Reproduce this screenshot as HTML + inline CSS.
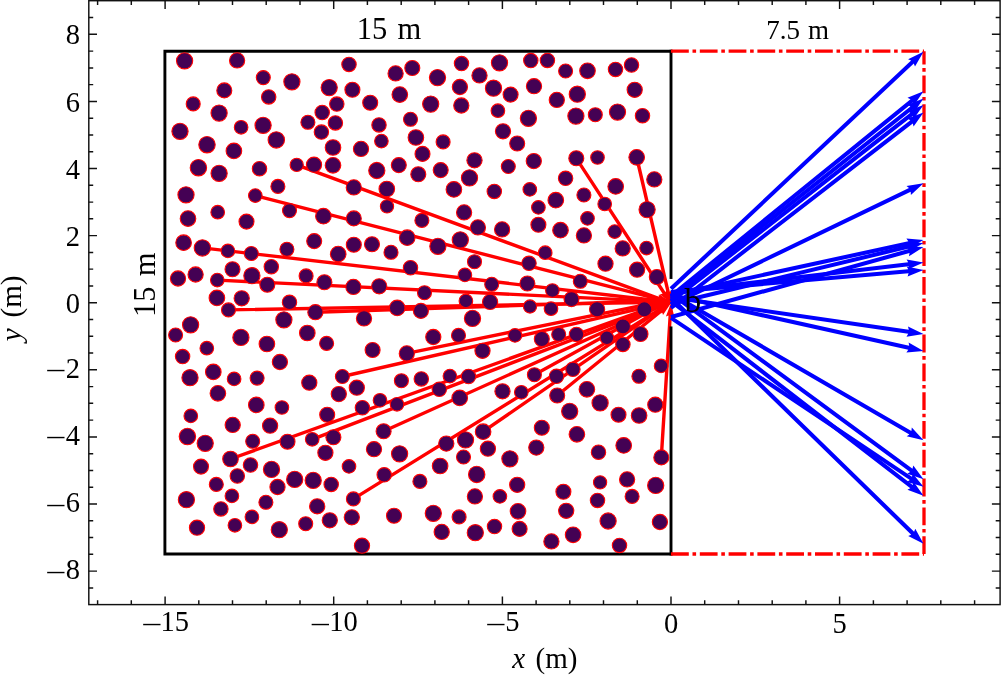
<!DOCTYPE html>
<html lang="en"><head><meta charset="utf-8"><title>Scattering geometry</title>
<style>html,body{margin:0;padding:0;background:#fff;}body{width:1001px;height:676px;overflow:hidden;}svg{display:block;}text{font-family:"Liberation Serif",serif;fill:#000;}</style>
</head><body>
<svg width="1001" height="676" viewBox="0 0 1001 676">
<rect width="1001" height="676" fill="#fff"/>
<g fill="#ff0000">
<polygon points="296.1,166.5 658.5,300.2 656.6,302.2 671.0,303.0 659.6,294.2 659.7,297.0 297.3,163.3"/>
<polygon points="254.9,197.2 658.3,300.7 656.6,302.9 671.0,302.2 658.7,294.7 659.1,297.4 255.7,194.0"/>
<polygon points="202.2,249.6 658.2,302.4 656.8,304.8 671.0,302.2 657.8,296.4 658.6,299.1 202.6,246.2"/>
<polygon points="217.2,281.8 658.3,303.1 657.0,305.6 671.0,302.0 657.5,297.1 658.4,299.7 217.4,278.4"/>
<polygon points="228.5,311.6 658.4,303.9 657.3,306.5 671.0,302.0 657.2,298.0 658.3,300.5 228.5,308.2"/>
<polygon points="315.5,313.9 658.4,302.6 657.4,305.2 671.0,300.5 657.1,296.7 658.3,299.2 315.3,310.5"/>
<polygon points="574.9,159.2 662.6,293.8 659.9,294.3 671.0,303.5 667.0,289.6 665.5,291.9 577.7,157.4"/>
<polygon points="635.0,157.7 666.5,292.5 663.7,292.1 671.0,304.5 672.0,290.1 669.8,291.8 638.4,156.9"/>
<polygon points="342.8,378.2 659.0,306.0 658.5,308.7 671.0,301.5 656.6,300.4 658.3,302.7 342.0,374.8"/>
<polygon points="312.8,440.9 659.8,308.1 659.7,310.9 671.0,302.0 656.6,303.0 658.5,304.9 311.6,437.7"/>
<polygon points="231.1,460.6 659.6,306.4 659.5,309.2 671.0,300.5 656.6,301.2 658.5,303.2 229.9,457.4"/>
<polygon points="354.3,500.3 661.1,310.6 661.5,313.4 671.0,302.5 657.1,306.1 659.3,307.7 352.5,497.5"/>
<polygon points="407.1,355.1 658.9,303.7 658.4,306.4 671.0,299.5 656.7,298.1 658.2,300.4 406.5,351.7"/>
<polygon points="384.3,432.8 660.1,308.3 660.2,311.0 671.0,301.5 656.7,303.3 658.7,305.2 382.9,429.8"/>
<polygon points="663.0,457.5 671.9,315.8 674.4,317.0 671.0,303.0 665.9,316.5 668.5,315.6 659.6,457.3"/>
<polygon points="558.3,396.8 662.2,312.3 663.0,315.0 671.0,303.0 657.6,308.4 660.1,309.7 556.1,394.2"/>
<polygon points="484.1,433.1 661.5,310.6 662.1,313.3 671.0,302.0 657.3,306.3 659.6,307.8 482.1,430.3"/>
<polygon points="535.2,376.2 660.7,307.1 661.0,309.9 671.0,299.5 656.9,302.4 659.1,304.1 533.6,373.2"/>
</g>
<g stroke="#000" stroke-width="2.9" fill="none" stroke-linecap="square">
<path d="M671.0 51.2 H164.9 V554.0 H671.0"/>
<path d="M671.0 51.2 V277.5"/>
<path d="M671.0 327.9 V554.0"/>
</g>
<g stroke="#ff0000" stroke-width="3.3" fill="none" stroke-dasharray="17.8 3.7 3.6 3.7">
<path d="M671.0 51.2 H924.0"/>
<path d="M671.0 554.0 H924.0"/>
<path d="M924.0 554.0 V51.2"/>
</g>
<g fill="#440154" stroke="#ff0000" stroke-width="1.1">
<circle cx="184.6" cy="60.8" r="8.1"/>
<circle cx="237.1" cy="60.4" r="7.6"/>
<circle cx="349.0" cy="64.4" r="7.2"/>
<circle cx="263.3" cy="77.6" r="7.0"/>
<circle cx="291.9" cy="81.8" r="8.1"/>
<circle cx="329.2" cy="87.6" r="8.1"/>
<circle cx="352.4" cy="89.8" r="7.5"/>
<circle cx="224.3" cy="90.4" r="7.5"/>
<circle cx="268.7" cy="96.9" r="7.2"/>
<circle cx="336.8" cy="104.1" r="7.2"/>
<circle cx="193.2" cy="103.9" r="7.0"/>
<circle cx="219.1" cy="113.1" r="8.1"/>
<circle cx="322.2" cy="112.5" r="7.2"/>
<circle cx="307.9" cy="122.3" r="7.0"/>
<circle cx="335.4" cy="122.9" r="7.2"/>
<circle cx="263.1" cy="125.3" r="8.1"/>
<circle cx="241.1" cy="127.3" r="6.8"/>
<circle cx="180.0" cy="131.3" r="8.1"/>
<circle cx="321.4" cy="132.1" r="7.2"/>
<circle cx="276.3" cy="139.9" r="8.2"/>
<circle cx="207.0" cy="144.7" r="8.2"/>
<circle cx="333.0" cy="147.5" r="7.8"/>
<circle cx="233.9" cy="150.9" r="7.8"/>
<circle cx="361.0" cy="148.9" r="7.6"/>
<circle cx="296.7" cy="164.9" r="6.6"/>
<circle cx="314.0" cy="164.7" r="7.6"/>
<circle cx="333.0" cy="165.3" r="7.8"/>
<circle cx="198.4" cy="167.7" r="8.2"/>
<circle cx="259.5" cy="168.7" r="7.2"/>
<circle cx="219.1" cy="173.3" r="8.1"/>
<circle cx="461.5" cy="63.6" r="7.2"/>
<circle cx="499.5" cy="62.8" r="8.1"/>
<circle cx="530.8" cy="60.6" r="7.2"/>
<circle cx="547.4" cy="60.4" r="7.2"/>
<circle cx="412.3" cy="68.0" r="7.5"/>
<circle cx="395.6" cy="73.4" r="7.6"/>
<circle cx="479.5" cy="75.4" r="7.6"/>
<circle cx="437.5" cy="77.6" r="8.1"/>
<circle cx="459.9" cy="87.0" r="7.6"/>
<circle cx="493.5" cy="88.2" r="8.1"/>
<circle cx="534.0" cy="86.2" r="7.6"/>
<circle cx="510.6" cy="94.6" r="7.5"/>
<circle cx="399.8" cy="94.6" r="7.8"/>
<circle cx="556.8" cy="99.9" r="7.6"/>
<circle cx="370.2" cy="102.7" r="7.5"/>
<circle cx="430.7" cy="104.1" r="8.1"/>
<circle cx="461.3" cy="105.5" r="7.6"/>
<circle cx="497.9" cy="110.7" r="6.8"/>
<circle cx="528.4" cy="118.3" r="8.1"/>
<circle cx="410.5" cy="119.3" r="7.0"/>
<circle cx="379.0" cy="124.9" r="7.2"/>
<circle cx="503.0" cy="131.3" r="7.6"/>
<circle cx="415.9" cy="137.5" r="7.8"/>
<circle cx="381.4" cy="141.1" r="6.8"/>
<circle cx="443.1" cy="141.9" r="7.0"/>
<circle cx="517.2" cy="143.5" r="7.5"/>
<circle cx="422.5" cy="153.9" r="7.5"/>
<circle cx="474.5" cy="160.3" r="7.6"/>
<circle cx="533.8" cy="161.1" r="7.6"/>
<circle cx="398.8" cy="165.1" r="7.5"/>
<circle cx="508.3" cy="166.5" r="7.0"/>
<circle cx="376.8" cy="170.5" r="8.1"/>
<circle cx="440.7" cy="170.1" r="7.5"/>
<circle cx="418.3" cy="174.3" r="7.5"/>
<circle cx="469.5" cy="177.9" r="8.1"/>
<circle cx="565.6" cy="71.0" r="7.0"/>
<circle cx="587.5" cy="70.8" r="7.8"/>
<circle cx="615.5" cy="69.4" r="7.2"/>
<circle cx="631.5" cy="65.0" r="7.2"/>
<circle cx="634.7" cy="89.8" r="7.6"/>
<circle cx="577.3" cy="94.2" r="8.1"/>
<circle cx="575.9" cy="116.1" r="8.1"/>
<circle cx="595.3" cy="114.7" r="7.0"/>
<circle cx="617.5" cy="112.1" r="8.1"/>
<circle cx="642.5" cy="115.7" r="7.2"/>
<circle cx="576.3" cy="158.3" r="7.5"/>
<circle cx="597.5" cy="157.5" r="6.8"/>
<circle cx="636.7" cy="157.3" r="7.8"/>
<circle cx="565.6" cy="178.3" r="7.2"/>
<circle cx="654.3" cy="179.4" r="7.6"/>
<circle cx="277.9" cy="186.4" r="7.0"/>
<circle cx="353.8" cy="187.4" r="7.6"/>
<circle cx="186.0" cy="194.8" r="8.1"/>
<circle cx="255.3" cy="195.6" r="6.8"/>
<circle cx="289.5" cy="210.6" r="7.0"/>
<circle cx="217.7" cy="212.2" r="6.8"/>
<circle cx="188.0" cy="218.6" r="7.8"/>
<circle cx="323.4" cy="216.2" r="7.8"/>
<circle cx="246.5" cy="221.6" r="7.5"/>
<circle cx="353.8" cy="218.4" r="7.5"/>
<circle cx="314.2" cy="241.1" r="7.5"/>
<circle cx="183.6" cy="242.7" r="7.8"/>
<circle cx="202.4" cy="247.9" r="8.2"/>
<circle cx="227.9" cy="250.9" r="6.8"/>
<circle cx="251.3" cy="253.5" r="7.0"/>
<circle cx="286.9" cy="249.3" r="7.0"/>
<circle cx="353.8" cy="244.7" r="7.5"/>
<circle cx="338.2" cy="254.1" r="7.8"/>
<circle cx="232.5" cy="269.3" r="7.5"/>
<circle cx="271.3" cy="266.7" r="7.2"/>
<circle cx="195.6" cy="274.5" r="7.6"/>
<circle cx="178.0" cy="278.5" r="7.6"/>
<circle cx="251.9" cy="275.7" r="8.1"/>
<circle cx="306.1" cy="275.9" r="7.0"/>
<circle cx="217.3" cy="280.1" r="6.8"/>
<circle cx="267.3" cy="284.7" r="7.5"/>
<circle cx="324.4" cy="282.3" r="7.5"/>
<circle cx="353.4" cy="286.9" r="7.6"/>
<circle cx="216.9" cy="297.9" r="7.8"/>
<circle cx="241.7" cy="298.3" r="7.6"/>
<circle cx="289.5" cy="302.3" r="7.2"/>
<circle cx="228.5" cy="309.9" r="7.0"/>
<circle cx="315.4" cy="312.2" r="7.6"/>
<circle cx="386.8" cy="189.0" r="7.8"/>
<circle cx="453.9" cy="189.4" r="7.8"/>
<circle cx="494.3" cy="191.4" r="7.2"/>
<circle cx="529.8" cy="189.4" r="6.8"/>
<circle cx="555.8" cy="200.2" r="7.8"/>
<circle cx="387.0" cy="206.4" r="6.6"/>
<circle cx="538.4" cy="207.4" r="6.8"/>
<circle cx="464.1" cy="212.4" r="7.6"/>
<circle cx="421.9" cy="220.4" r="7.0"/>
<circle cx="477.9" cy="227.4" r="7.6"/>
<circle cx="502.1" cy="229.4" r="7.6"/>
<circle cx="538.4" cy="224.8" r="7.5"/>
<circle cx="560.5" cy="230.2" r="7.8"/>
<circle cx="407.2" cy="237.7" r="7.8"/>
<circle cx="460.3" cy="239.9" r="8.1"/>
<circle cx="437.9" cy="246.3" r="8.1"/>
<circle cx="372.0" cy="244.3" r="7.5"/>
<circle cx="391.0" cy="252.3" r="7.0"/>
<circle cx="545.2" cy="252.7" r="6.8"/>
<circle cx="474.5" cy="261.7" r="7.0"/>
<circle cx="529.0" cy="263.3" r="7.2"/>
<circle cx="410.5" cy="267.7" r="7.2"/>
<circle cx="464.9" cy="274.9" r="6.8"/>
<circle cx="491.7" cy="284.3" r="7.0"/>
<circle cx="527.4" cy="283.5" r="7.5"/>
<circle cx="379.2" cy="286.3" r="7.6"/>
<circle cx="424.5" cy="292.7" r="7.0"/>
<circle cx="552.4" cy="290.5" r="6.8"/>
<circle cx="465.9" cy="300.9" r="6.8"/>
<circle cx="490.1" cy="301.9" r="7.6"/>
<circle cx="530.0" cy="306.5" r="6.6"/>
<circle cx="551.0" cy="308.7" r="6.8"/>
<circle cx="397.2" cy="307.9" r="7.8"/>
<circle cx="420.9" cy="310.9" r="7.5"/>
<circle cx="615.7" cy="186.4" r="7.8"/>
<circle cx="583.9" cy="195.0" r="7.0"/>
<circle cx="604.7" cy="204.0" r="6.8"/>
<circle cx="647.1" cy="209.6" r="8.1"/>
<circle cx="587.5" cy="218.4" r="6.8"/>
<circle cx="583.9" cy="235.4" r="7.6"/>
<circle cx="614.7" cy="231.6" r="6.8"/>
<circle cx="622.7" cy="248.4" r="7.6"/>
<circle cx="646.5" cy="248.1" r="6.8"/>
<circle cx="605.5" cy="263.7" r="7.6"/>
<circle cx="637.1" cy="269.7" r="7.6"/>
<circle cx="656.9" cy="277.1" r="7.6"/>
<circle cx="580.3" cy="281.3" r="7.0"/>
<circle cx="571.5" cy="299.1" r="7.5"/>
<circle cx="597.1" cy="309.3" r="7.6"/>
<circle cx="644.3" cy="309.3" r="7.5"/>
<circle cx="283.9" cy="319.8" r="8.1"/>
<circle cx="190.6" cy="324.8" r="8.1"/>
<circle cx="175.6" cy="335.0" r="7.0"/>
<circle cx="240.9" cy="337.4" r="8.1"/>
<circle cx="307.3" cy="333.0" r="7.8"/>
<circle cx="326.6" cy="343.4" r="7.0"/>
<circle cx="266.9" cy="344.0" r="7.8"/>
<circle cx="206.8" cy="348.2" r="6.8"/>
<circle cx="182.6" cy="356.6" r="7.2"/>
<circle cx="279.9" cy="362.0" r="7.6"/>
<circle cx="213.3" cy="371.9" r="7.8"/>
<circle cx="190.0" cy="377.7" r="8.1"/>
<circle cx="234.1" cy="378.9" r="6.8"/>
<circle cx="257.1" cy="378.1" r="7.0"/>
<circle cx="342.4" cy="376.5" r="7.0"/>
<circle cx="309.3" cy="382.7" r="7.6"/>
<circle cx="356.8" cy="387.7" r="7.6"/>
<circle cx="217.9" cy="393.3" r="7.8"/>
<circle cx="338.8" cy="394.1" r="7.6"/>
<circle cx="256.3" cy="404.9" r="7.8"/>
<circle cx="281.9" cy="407.5" r="6.8"/>
<circle cx="327.2" cy="414.7" r="7.5"/>
<circle cx="190.8" cy="415.9" r="6.8"/>
<circle cx="232.7" cy="424.9" r="7.6"/>
<circle cx="270.1" cy="425.7" r="7.6"/>
<circle cx="187.4" cy="436.5" r="8.2"/>
<circle cx="205.2" cy="443.3" r="8.1"/>
<circle cx="252.7" cy="441.3" r="7.0"/>
<circle cx="287.5" cy="441.7" r="7.5"/>
<circle cx="312.2" cy="439.3" r="6.8"/>
<circle cx="333.4" cy="437.3" r="7.5"/>
<circle cx="364.0" cy="318.4" r="7.6"/>
<circle cx="472.5" cy="318.4" r="8.1"/>
<circle cx="433.3" cy="337.0" r="7.6"/>
<circle cx="458.5" cy="335.4" r="7.0"/>
<circle cx="515.0" cy="335.4" r="6.8"/>
<circle cx="541.8" cy="339.0" r="7.5"/>
<circle cx="558.7" cy="334.4" r="7.0"/>
<circle cx="372.6" cy="350.0" r="7.5"/>
<circle cx="406.8" cy="353.4" r="7.6"/>
<circle cx="482.5" cy="350.8" r="7.6"/>
<circle cx="534.4" cy="374.7" r="7.0"/>
<circle cx="556.5" cy="376.3" r="7.2"/>
<circle cx="449.9" cy="376.1" r="6.8"/>
<circle cx="468.5" cy="376.5" r="7.2"/>
<circle cx="421.3" cy="378.9" r="7.2"/>
<circle cx="401.4" cy="380.7" r="7.0"/>
<circle cx="439.3" cy="389.3" r="7.2"/>
<circle cx="502.5" cy="391.3" r="7.6"/>
<circle cx="521.3" cy="392.3" r="6.8"/>
<circle cx="557.2" cy="395.5" r="7.5"/>
<circle cx="459.7" cy="397.9" r="7.8"/>
<circle cx="380.0" cy="400.3" r="6.8"/>
<circle cx="397.0" cy="404.3" r="6.8"/>
<circle cx="362.4" cy="407.7" r="7.2"/>
<circle cx="383.6" cy="431.3" r="7.5"/>
<circle cx="541.8" cy="427.7" r="7.5"/>
<circle cx="483.1" cy="431.7" r="7.8"/>
<circle cx="465.5" cy="439.9" r="8.1"/>
<circle cx="446.3" cy="443.6" r="7.6"/>
<circle cx="487.9" cy="448.7" r="7.6"/>
<circle cx="536.3" cy="447.6" r="7.6"/>
<circle cx="374.0" cy="449.2" r="7.6"/>
<circle cx="622.9" cy="326.4" r="7.5"/>
<circle cx="640.5" cy="334.0" r="7.5"/>
<circle cx="576.5" cy="334.4" r="7.2"/>
<circle cx="606.9" cy="337.8" r="6.8"/>
<circle cx="622.9" cy="344.4" r="7.2"/>
<circle cx="661.1" cy="365.9" r="6.8"/>
<circle cx="572.9" cy="369.3" r="7.2"/>
<circle cx="638.9" cy="376.3" r="7.0"/>
<circle cx="586.9" cy="389.3" r="7.8"/>
<circle cx="600.1" cy="402.9" r="8.1"/>
<circle cx="655.3" cy="404.7" r="7.6"/>
<circle cx="569.7" cy="411.3" r="8.1"/>
<circle cx="618.5" cy="414.7" r="7.5"/>
<circle cx="639.1" cy="415.5" r="7.8"/>
<circle cx="576.9" cy="434.3" r="7.8"/>
<circle cx="623.7" cy="445.4" r="7.8"/>
<circle cx="325.4" cy="452.8" r="7.6"/>
<circle cx="230.5" cy="459.0" r="7.8"/>
<circle cx="201.0" cy="466.6" r="7.5"/>
<circle cx="250.5" cy="465.0" r="7.2"/>
<circle cx="349.0" cy="466.4" r="6.8"/>
<circle cx="271.5" cy="469.4" r="8.1"/>
<circle cx="237.3" cy="476.0" r="7.2"/>
<circle cx="294.7" cy="479.4" r="8.1"/>
<circle cx="313.2" cy="480.4" r="8.1"/>
<circle cx="216.3" cy="484.4" r="7.0"/>
<circle cx="331.2" cy="484.4" r="7.2"/>
<circle cx="277.5" cy="487.0" r="7.6"/>
<circle cx="231.9" cy="495.9" r="6.8"/>
<circle cx="186.4" cy="499.7" r="8.1"/>
<circle cx="353.4" cy="498.9" r="7.0"/>
<circle cx="265.9" cy="502.3" r="7.0"/>
<circle cx="317.2" cy="506.3" r="7.6"/>
<circle cx="220.9" cy="508.9" r="7.2"/>
<circle cx="251.9" cy="516.9" r="6.8"/>
<circle cx="351.8" cy="517.3" r="7.6"/>
<circle cx="329.8" cy="520.3" r="7.6"/>
<circle cx="305.7" cy="523.7" r="7.0"/>
<circle cx="234.9" cy="525.3" r="6.8"/>
<circle cx="197.0" cy="527.7" r="7.6"/>
<circle cx="279.3" cy="529.7" r="8.1"/>
<circle cx="399.6" cy="453.8" r="8.1"/>
<circle cx="463.5" cy="457.0" r="7.0"/>
<circle cx="509.9" cy="458.8" r="8.1"/>
<circle cx="440.1" cy="466.0" r="7.8"/>
<circle cx="384.2" cy="474.8" r="7.2"/>
<circle cx="476.7" cy="474.4" r="8.2"/>
<circle cx="419.9" cy="481.4" r="7.0"/>
<circle cx="517.2" cy="484.8" r="7.6"/>
<circle cx="474.9" cy="496.4" r="7.6"/>
<circle cx="499.9" cy="496.4" r="6.8"/>
<circle cx="518.0" cy="511.3" r="7.8"/>
<circle cx="433.3" cy="513.3" r="8.1"/>
<circle cx="394.0" cy="515.7" r="7.5"/>
<circle cx="459.1" cy="516.9" r="7.0"/>
<circle cx="494.5" cy="526.5" r="7.2"/>
<circle cx="519.6" cy="528.9" r="7.5"/>
<circle cx="441.7" cy="531.9" r="7.6"/>
<circle cx="475.3" cy="532.7" r="8.1"/>
<circle cx="551.4" cy="541.4" r="7.6"/>
<circle cx="362.0" cy="545.7" r="7.6"/>
<circle cx="598.5" cy="452.2" r="7.2"/>
<circle cx="661.3" cy="457.4" r="7.5"/>
<circle cx="600.1" cy="482.4" r="6.6"/>
<circle cx="627.1" cy="479.4" r="7.6"/>
<circle cx="655.7" cy="485.4" r="8.1"/>
<circle cx="563.4" cy="491.8" r="7.5"/>
<circle cx="632.1" cy="496.4" r="7.0"/>
<circle cx="597.5" cy="500.4" r="7.2"/>
<circle cx="566.2" cy="510.8" r="7.6"/>
<circle cx="608.1" cy="521.0" r="8.1"/>
<circle cx="659.9" cy="522.0" r="7.6"/>
<circle cx="573.1" cy="534.8" r="7.8"/>
<circle cx="619.5" cy="545.4" r="7.2"/>
</g>
<g fill="#0000ff">
<polygon points="672.4,290.3 913.8,63.5 915.0,66.6 923.5,51.7 908.1,59.2 911.1,60.6 669.6,287.3"/>
<polygon points="672.3,297.6 913.0,102.4 913.9,105.6 923.5,91.3 907.5,97.7 910.5,99.2 669.7,294.4"/>
<polygon points="672.3,300.1 912.9,109.6 913.8,112.8 923.5,98.6 907.5,104.8 910.4,106.4 669.7,296.9"/>
<polygon points="672.2,303.1 912.8,115.9 913.6,119.1 923.5,105.0 907.4,111.1 910.3,112.7 669.8,299.9"/>
<polygon points="672.2,309.6 912.8,123.4 913.6,126.6 923.5,112.6 907.4,118.6 910.3,120.2 669.8,306.4"/>
<polygon points="671.9,306.8 910.7,191.7 910.9,195.0 923.5,183.3 906.5,185.9 909.0,188.0 670.1,303.2"/>
<polygon points="671.4,297.0 909.1,245.2 908.5,248.4 923.5,240.0 906.4,238.5 908.3,241.2 670.6,293.0"/>
<polygon points="671.5,306.0 909.3,248.5 908.7,251.8 923.5,243.0 906.3,241.9 908.3,244.6 670.5,302.0"/>
<polygon points="671.5,319.0 909.5,253.0 909.0,256.3 923.5,247.0 906.3,246.5 908.4,249.1 670.5,315.0"/>
<polygon points="671.2,294.2 908.7,266.3 907.8,269.4 923.5,262.5 906.6,259.4 908.2,262.3 670.8,290.2"/>
<polygon points="671.2,294.0 908.6,273.3 907.6,276.5 923.5,270.0 906.7,266.4 908.2,269.3 670.8,290.0"/>
<polygon points="670.7,299.3 908.2,333.8 906.5,336.7 923.5,334.0 908.0,326.6 908.8,329.8 671.3,295.3"/>
<polygon points="670.6,297.0 908.3,349.7 906.4,352.4 923.5,351.0 908.6,342.5 909.2,345.8 671.4,293.0"/>
<polygon points="670.0,295.5 909.4,434.4 906.7,436.3 923.5,440.2 911.8,427.6 911.4,430.9 672.0,291.9"/>
<polygon points="669.8,295.2 910.1,472.0 907.3,473.7 923.5,479.3 913.3,465.5 912.5,468.7 672.2,292.0"/>
<polygon points="669.9,319.6 909.8,480.1 907.0,481.9 923.5,486.8 912.7,473.5 912.0,476.7 672.1,316.2"/>
<polygon points="669.8,302.8 910.3,488.2 907.4,489.8 923.5,495.8 913.6,481.8 912.7,485.0 672.2,299.6"/>
<polygon points="669.6,299.3 911.2,534.7 908.2,536.0 923.5,543.8 915.3,528.7 914.1,531.8 672.4,296.3"/>
</g>
<g stroke="#111" stroke-width="1.45" fill="none">
<rect x="88.8" y="0.7" width="911.3" height="603.9"/>
<path d="M97.6 604.6v-4.4M97.6 0.7v4.4M131.3 604.6v-4.4M131.3 0.7v4.4M165.1 604.6v-8.2M165.1 0.7v8.2M198.8 604.6v-4.4M198.8 0.7v4.4M232.5 604.6v-4.4M232.5 0.7v4.4M266.2 604.6v-4.4M266.2 0.7v4.4M300.0 604.6v-4.4M300.0 0.7v4.4M333.7 604.6v-8.2M333.7 0.7v8.2M367.4 604.6v-4.4M367.4 0.7v4.4M401.2 604.6v-4.4M401.2 0.7v4.4M434.9 604.6v-4.4M434.9 0.7v4.4M468.6 604.6v-4.4M468.6 0.7v4.4M502.4 604.6v-8.2M502.4 0.7v8.2M536.1 604.6v-4.4M536.1 0.7v4.4M569.8 604.6v-4.4M569.8 0.7v4.4M603.5 604.6v-4.4M603.5 0.7v4.4M637.3 604.6v-4.4M637.3 0.7v4.4M671.0 604.6v-8.2M671.0 0.7v8.2M704.7 604.6v-4.4M704.7 0.7v4.4M738.5 604.6v-4.4M738.5 0.7v4.4M772.2 604.6v-4.4M772.2 0.7v4.4M805.9 604.6v-4.4M805.9 0.7v4.4M839.6 604.6v-8.2M839.6 0.7v8.2M873.4 604.6v-4.4M873.4 0.7v4.4M907.1 604.6v-4.4M907.1 0.7v4.4M940.8 604.6v-4.4M940.8 0.7v4.4M974.6 604.6v-4.4M974.6 0.7v4.4M88.8 587.9h4.4M1000.1 587.9h-4.4M88.8 571.1h8.2M1000.1 571.1h-8.2M88.8 554.3h4.4M1000.1 554.3h-4.4M88.8 537.5h4.4M1000.1 537.5h-4.4M88.8 520.8h4.4M1000.1 520.8h-4.4M88.8 504.0h8.2M1000.1 504.0h-8.2M88.8 487.2h4.4M1000.1 487.2h-4.4M88.8 470.4h4.4M1000.1 470.4h-4.4M88.8 453.7h4.4M1000.1 453.7h-4.4M88.8 436.9h8.2M1000.1 436.9h-8.2M88.8 420.1h4.4M1000.1 420.1h-4.4M88.8 403.3h4.4M1000.1 403.3h-4.4M88.8 386.6h4.4M1000.1 386.6h-4.4M88.8 369.8h8.2M1000.1 369.8h-8.2M88.8 353.0h4.4M1000.1 353.0h-4.4M88.8 336.2h4.4M1000.1 336.2h-4.4M88.8 319.5h4.4M1000.1 319.5h-4.4M88.8 302.7h8.2M1000.1 302.7h-8.2M88.8 285.9h4.4M1000.1 285.9h-4.4M88.8 269.1h4.4M1000.1 269.1h-4.4M88.8 252.4h4.4M1000.1 252.4h-4.4M88.8 235.6h8.2M1000.1 235.6h-8.2M88.8 218.8h4.4M1000.1 218.8h-4.4M88.8 202.1h4.4M1000.1 202.1h-4.4M88.8 185.3h4.4M1000.1 185.3h-4.4M88.8 168.5h8.2M1000.1 168.5h-8.2M88.8 151.7h4.4M1000.1 151.7h-4.4M88.8 134.9h4.4M1000.1 134.9h-4.4M88.8 118.2h4.4M1000.1 118.2h-4.4M88.8 101.4h8.2M1000.1 101.4h-8.2M88.8 84.6h4.4M1000.1 84.6h-4.4M88.8 67.9h4.4M1000.1 67.9h-4.4M88.8 51.1h4.4M1000.1 51.1h-4.4M88.8 34.3h8.2M1000.1 34.3h-8.2M88.8 17.5h4.4M1000.1 17.5h-4.4"/>
</g>
<g font-size="28.5px">
<text x="189.1" y="630.8" text-anchor="end">15</text>
<text transform="translate(151.4 633.6) scale(1.31 1)" text-anchor="middle">−</text>
<text x="357.7" y="630.8" text-anchor="end">10</text>
<text transform="translate(320.0 633.6) scale(1.31 1)" text-anchor="middle">−</text>
<text x="519.4" y="630.8" text-anchor="end">5</text>
<text transform="translate(495.6 633.6) scale(1.31 1)" text-anchor="middle">−</text>
<text x="671.0" y="633.4" text-anchor="middle">0</text>
<text x="839.6" y="633.4" text-anchor="middle">5</text>
<text x="79.9" y="578.8" text-anchor="end">8</text>
<text transform="translate(55.4 581.6) scale(1.31 1)" text-anchor="middle">−</text>
<text x="79.9" y="511.7" text-anchor="end">6</text>
<text transform="translate(55.4 514.5) scale(1.31 1)" text-anchor="middle">−</text>
<text x="79.9" y="444.6" text-anchor="end">4</text>
<text transform="translate(55.4 447.4) scale(1.31 1)" text-anchor="middle">−</text>
<text x="79.9" y="377.5" text-anchor="end">2</text>
<text transform="translate(55.4 380.3) scale(1.31 1)" text-anchor="middle">−</text>
<text x="79.9" y="312.8" text-anchor="end">0</text>
<text x="79.9" y="245.7" text-anchor="end">2</text>
<text x="79.9" y="178.6" text-anchor="end">4</text>
<text x="79.9" y="111.5" text-anchor="end">6</text>
<text x="79.9" y="44.4" text-anchor="end">8</text>
</g>
<text x="512.2" y="668.3" font-size="29px" font-style="italic">x</text>
<text x="535.6" y="668.3" font-size="29px">(m)</text>
<text transform="translate(20.7 341.2) rotate(-90)" font-size="29px" font-style="italic">y</text>
<text transform="translate(20.7 317.5) rotate(-90)" font-size="29px">(m)</text>
<text x="356.7" y="39.3" font-size="30.5px" word-spacing="2.6px">15 m</text>
<text x="766.3" y="39.3" font-size="27px" word-spacing="1.2px">7.5 m</text>
<text transform="translate(155.3 316.9) rotate(-90)" font-size="30.5px" word-spacing="2.6px">15 m</text>
<text x="684.6" y="312.3" font-size="33.5px">b</text>
</svg></body></html>
